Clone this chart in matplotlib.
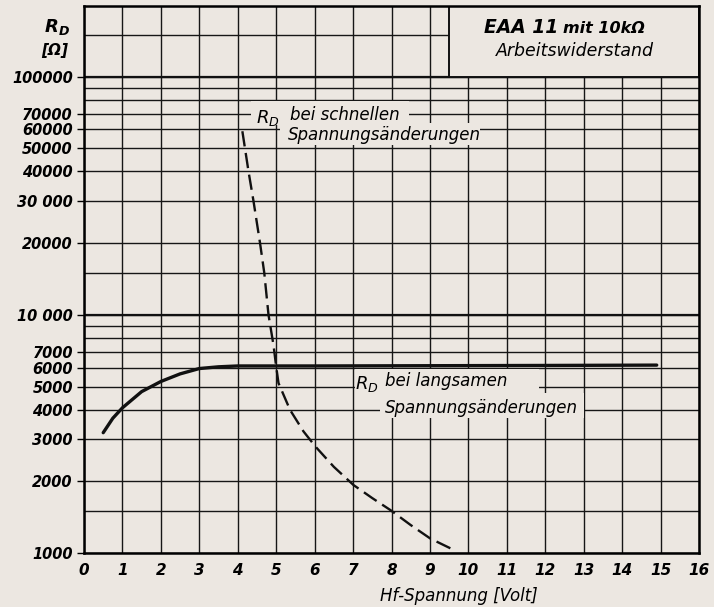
import numpy as np
import matplotlib
matplotlib.use("Agg")
import matplotlib.pyplot as plt
from matplotlib.patches import Rectangle

plt.rcParams['font.family'] = ['DejaVu Sans']
plt.rcParams['mathtext.fontset'] = 'custom'
plt.rcParams['mathtext.rm'] = 'DejaVu Sans'
plt.rcParams['mathtext.it'] = 'DejaVu Sans:italic'
plt.rcParams['mathtext.bf'] = 'DejaVu Sans:italic:bold'

# R_D bei langsamen Spannungsänderungen (solid)
u_slow = [0.5, 0.75, 1.0, 1.5, 2.0, 2.5, 3.0, 3.5, 4.0, 5.0, 6.0, 8.0, 10.0, 12.0, 14.9]
r_slow = [3200, 3680, 4070, 4760, 5250, 5650, 5950, 6050, 6100, 6100, 6100, 6110, 6120, 6130, 6150]

# R_D bei schnellen Spannungsänderungen (dashed)
u_fast = [4.12, 4.28, 4.41, 4.58, 4.69, 4.80, 4.93, 5.0, 5.06, 5.36, 5.71, 6.02, 6.5, 7.01, 7.5, 7.97, 8.5, 9.01, 9.62]
r_fast = [59000, 40000, 30000, 20000, 15000, 10000, 7460, 6060, 5170, 3990, 3240, 2800, 2300, 1930, 1700, 1515, 1310, 1150, 1030]

x_ticks = list(range(0, 17))
y_ticks = [1000, 2000, 3000, 4000, 5000, 6000, 7000, 10000, 20000, 30000,
           40000, 50000, 60000, 70000, 100000]
y_ticklabels = ['1000', '2000', '3000', '4000', '5000', '6000', '7000', '10 000',
                '20000', '30 000', '40000', '50000', '60000', '70000', '100000']
y_grid = [1500, 8000, 9000, 15000, 80000, 90000, 150000]

bg = '#ece7e1'

fig = plt.figure(figsize=(7.14, 6.07), dpi=100, facecolor=bg)
ax = fig.add_axes([84 / 714, 54 / 607, 615 / 714, 547 / 607], facecolor=bg)

ax.set_yscale('log')
ax.set_xlim(0, 16)
ax.set_ylim(1000, 198000)

ax.set_xticks(x_ticks)
ax.set_xticklabels([str(v) for v in x_ticks], fontsize=11, style='italic', fontweight='bold')
ax.set_yticks(y_ticks)
ax.set_yticklabels(y_ticklabels, fontsize=10.5, style='italic', fontweight='bold')
ax.set_yticks(y_grid, minor=True)
ax.yaxis.set_minor_formatter(matplotlib.ticker.NullFormatter())
ax.tick_params(axis='x', length=0, pad=7)
ax.tick_params(axis='y', which='major', length=5, width=1, pad=3)
ax.tick_params(axis='y', which='minor', length=0)

ax.set_axisbelow(True)
ax.grid(True, which='both', color='#161616', lw=1.0)
for s in ax.spines.values():
    s.set_linewidth(1.8)
for v in (10000, 100000):
    ax.axhline(v, color='#111111', lw=1.6, zorder=1.2)

# title box
ax.add_patch(Rectangle((9.5, 100000), 6.5, 98000, facecolor=bg, edgecolor='#111111',
                       lw=1.4, zorder=1.5))
ax.text(12.34, 153000, 'EAA 11', fontsize=13.5, style='italic', fontweight='bold',
        ha='right', va='baseline', zorder=4)
ax.text(12.47, 153000, 'mit 10kΩ', fontsize=11.5, style='italic', fontweight='bold',
        ha='left', va='baseline', zorder=4)
ax.text(12.76, 128000, 'Arbeitswiderstand', fontsize=12.5, style='italic',
        ha='center', va='center', zorder=4)

# label areas cut out of the grid
for x0, x1, y0, y1 in [(4.35, 8.45, 62500, 79000), (5.1, 10.3, 51500, 64000),
                       (7.05, 11.85, 4450, 5950), (7.7, 13.0, 3700, 4700)]:
    ax.add_patch(Rectangle((x0, y0), x1 - x0, y1 - y0, facecolor=bg,
                           edgecolor='none', zorder=1.5))

ax.text(4.79, 67000, r'$R_D$', fontsize=13, ha='center', va='center', zorder=4)
ax.text(5.36, 69200, 'bei schnellen', fontsize=12, style='italic', ha='left', va='center', zorder=4)
ax.text(5.31, 57000, 'Spannungsänderungen', fontsize=12, style='italic', ha='left', va='center', zorder=4)

ax.text(7.36, 5100, r'$R_D$', fontsize=13, ha='center', va='center', zorder=4)
ax.text(7.84, 5250, 'bei langsamen', fontsize=12, style='italic', ha='left', va='center', zorder=4)
ax.text(7.84, 4065, 'Spannungsänderungen', fontsize=12, style='italic', ha='left', va='center', zorder=4)

ax.plot(u_slow, r_slow, color='#111111', lw=2.4, solid_capstyle='round', zorder=3)
ax.plot(u_fast, r_fast, color='#111111', lw=1.7, dashes=(6.5, 2.8), zorder=3)

ax.text(-0.044, 0.962, r'$\mathbf{R}_\mathbf{D}$', transform=ax.transAxes, fontsize=13,
        ha='center', va='center')
ax.text(-0.047, 0.918, '[Ω]', transform=ax.transAxes, fontsize=11, style='italic',
        fontweight='bold', ha='center', va='center')

ax.set_xlabel('Hf-Spannung [Volt]', fontsize=12, style='italic')
ax.xaxis.set_label_coords(0.61, -0.062)

fig.savefig('out.png', dpi=100, facecolor=bg)
